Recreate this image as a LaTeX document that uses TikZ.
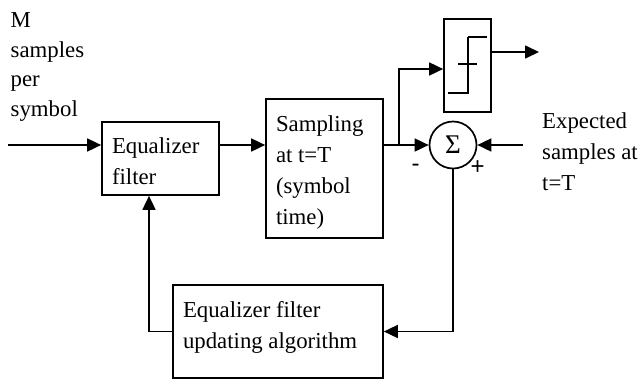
\documentclass[tikz,border=0pt]{standalone}
\usepackage{fontspec}
\setmainfont{Liberation Serif}
\newfontfamily\signfont{Liberation Sans}
\usetikzlibrary{arrows.meta,calc}
\newcommand\mybox[4]{\parbox[c][#2][t]{#1}{\raggedright\leftskip=10pt\rule{0pt}{#3}#4}}
\tikzset{
  blk/.style={draw,line width=1.7pt,inner sep=0pt,rectangle,font=\fontsize{22.8pt}{31pt}\selectfont},
  txt/.style={inner sep=0pt,anchor=base west,font=\fontsize{22.8pt}{31pt}\selectfont},
  sgn/.style={inner sep=0pt,font=\signfont\fontsize{24pt}{26pt}\selectfont},
  arr/.style={line width=1.7pt,-{Triangle[length=14pt,width=13pt]}},
  ln/.style={line width=1.7pt}
}
\begin{document}
\begin{tikzpicture}[x=1pt,y=-1pt]
\useasboundingbox (0,0) rectangle (642,381);
% blocks
\node[blk] (eq)   at (160.5,158.5) {\mybox{117pt}{73pt}{31pt}{Equalizer\\filter}};
\node[blk] (samp) at (324.5,168.5) {\mybox{117pt}{139pt}{32pt}{Sampling\\at t=T\\(symbol\\time)}};
\node[blk] (dec)  at (467.5,65.5) {\parbox[c][93pt]{47pt}{\mbox{}}};
\node[draw,line width=1.7pt,circle,minimum size=47pt,inner sep=0pt,font=\fontsize{27pt}{30pt}\selectfont] (sum) at (453,145) {Σ};
\node[blk] (alg)  at (278,331.5) {\mybox{210pt}{93pt}{32pt}{Equalizer filter\\updating algorithm}};
% free texts
\node[txt] (lbin) at (10.5,27.5) {\parbox[t]{100pt}{\fontsize{22.8pt}{29.5pt}\selectfont\raggedright M\\samples\\per\\symbol}};
\node[txt] (lbex) at (542,128) {\parbox[t]{100pt}{\raggedright Expected\\samples at\\t=T}};
\node[sgn] (minus) at (415.7,168) {-};
\node[sgn] (plus) at (477.7,168) {+};
% step symbol in decision block
\draw[ln] (468,37) -- (487,37) (468,37) -- (468,93) -- (448,93) (458,64) -- (477,64);
% coordinates
\coordinate (in) at (8,145);
\coordinate (r1) at (0,145);
\coordinate (br) at (399,145);
\coordinate (dy) at (0,69);
\coordinate (oy) at (0,52);
\coordinate (out) at (539,52);
\coordinate (ex) at (523,145);
\coordinate (fb) at (149,0);
% connectors
\draw[arr] (in) -- (in -| eq.west);
\draw[arr] (r1 -| eq.east) -- (r1 -| samp.west);
\draw[arr] (r1 -| samp.east) -- (sum.west);
\draw[arr] (br) |- (dy -| dec.west);
\draw[arr] (oy -| dec.east) -- (out);
\draw[arr] (ex) -- (sum.east);
\draw[arr] (sum.south) |- (alg.east);
\draw[arr] (alg.west) -| (fb |- eq.south);
\end{tikzpicture}
\end{document}
